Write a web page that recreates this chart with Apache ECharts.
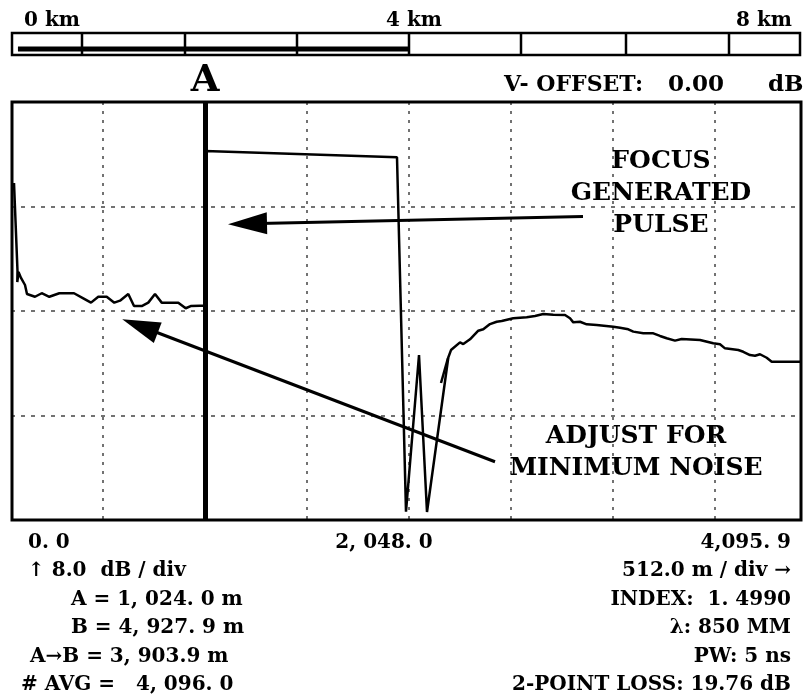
<!DOCTYPE html>
<html><head><meta charset="utf-8">
<script src="https://cdn.jsdelivr.net/npm/echarts@6/dist/echarts.min.js"></script>
<style>html,body{margin:0;padding:0;background:#fff}#c{width:807px;height:700px}</style>
</head><body><div id="c"></div>
<script>
// ---- data (distance in metres, level in dB) ----
const distance = [65.3, 82.8, 81.8, 87.9, 100.4, 120.5, 130.5, 170.7, 204.3, 242.5, 292.7, 366.5, 413.1, 451.8, 488.4, 530.6, 568.8, 597.4, 639.0, 667.7, 706.3, 739.4, 773.1, 806.7, 890.0, 927.2, 952.3, 999.0, 1024, 1024, 1987.9, 2033.1, 2098.4, 2138.5, 2245.4, 2259.0, 2304.2, 2320.7, 2354.4, 2396.0, 2421.1, 2454.8, 2488.4, 2513.5, 2571.7, 2639.0, 2680.7, 2722.3, 2772.5, 2831.3, 2856.4, 2872.9, 2906.6, 2940.2, 2990.4, 3073.7, 3107.4, 3149.0, 3174.1, 3224.3, 3274.5, 3308.2, 3341.8, 3383.5, 3417.1, 3509.0, 3575.7, 3609.4, 3634.5, 3701.2, 3726.3, 3760.0, 3785.1, 3810.2, 3843.8, 3868.9, 4016];
const level = [25.80, 19.06, 18.22, 18.99, 18.53, 17.99, 17.30, 17.09, 17.36, 17.09, 17.36, 17.36, 16.97, 16.64, 17.09, 17.09, 16.64, 16.79, 17.30, 16.38, 16.38, 16.64, 17.30, 16.64, 16.64, 16.21, 16.38, 16.41, 16.41, 28.25, 27.77, 0.64, 12.63, 0.61, 12.44, 13.01, 13.60, 13.47, 13.83, 14.49, 14.60, 15.00, 15.18, 15.23, 15.44, 15.52, 15.62, 15.77, 15.72, 15.69, 15.44, 15.13, 15.18, 14.98, 14.93, 14.80, 14.72, 14.60, 14.42, 14.29, 14.29, 14.09, 13.91, 13.73, 13.86, 13.78, 13.53, 13.45, 13.14, 13.01, 12.88, 12.63, 12.58, 12.69, 12.42, 12.12, 12.12];
const ghostDistance = [2208.8, 2243.9];
const ghostLevel = [10.49, 12.40];
const markerA = 1024;
const focusArrowFrom = [2921.6, 23.23];
const focusArrowTo = [1237.4, 22.68];
const noiseArrowFrom = [2479.9, 4.46];
const noiseArrowTo = [697.8, 14.85];
const scaleKm = [0.04, 4.0];
const scaleBarLevel = [0.27, 0.27];
const scaleLabels = ['0 km', '4 km', '8 km'];
const axisDistanceLabels = ['0. 0', '2, 048. 0', '4,095. 9'];
const footerLeft = ['\u2191 8.0  dB / div', 'A = 1, 024. 0 m', 'B = 4, 927. 9 m', 'A\u2192B = 3, 903.9 m', '# AVG =   4, 096. 0'];
const footerRight = ['512.0 m / div \u2192', 'INDEX:  1. 4990', '\u03bb: 850 MM', 'PW: 5 ns', '2-POINT LOSS: 19.76 dB'];
const focusText = ['FOCUS', 'GENERATED', 'PULSE'];
const noiseText = ['ADJUST FOR', 'MINIMUM NOISE'];

// ---- chart ----
const FONT = '"DejaVu Serif", serif';
function txt(s, x, y, size, align) {
  return {type: 'text', x: x, y: y, z: 50, silent: true,
    style: {text: s, font: 'bold ' + size + 'px ' + FONT, fill: '#000',
      textAlign: align || 'left', textVerticalAlign: 'middle'}};
}
function line(x1, y1, x2, y2, w) {
  return {type: 'line', z: 60, silent: true, shape: {x1: x1, y1: y1, x2: x2, y2: y2},
    style: {stroke: '#000', lineWidth: w}};
}

const graphics = [];
// mask for grid overhang left of the frame
graphics.push({type: 'rect', z: 55, silent: true, shape: {x: 0, y: 95, width: 10.5, height: 430},
  style: {fill: '#fff', stroke: 'none'}});
// plot frame
graphics.push({type: 'rect', z: 60, silent: true, shape: {x: 12, y: 102, width: 789, height: 418},
  style: {fill: 'none', stroke: '#000', lineWidth: 3}});
// scale bar box & dividers
graphics.push({type: 'rect', z: 60, silent: true, shape: {x: 12, y: 33, width: 788, height: 22},
  style: {fill: 'none', stroke: '#000', lineWidth: 2.5}});
[82, 185, 297, 409, 521, 626, 729].forEach(function (x) { graphics.push(line(x, 33, x, 55, 2.5)); });
// scale labels
graphics.push(txt(scaleLabels[0], 24, 21, 20));
graphics.push(txt(scaleLabels[1], 386, 21, 20));
graphics.push(txt(scaleLabels[2], 736, 21, 20));
// V-offset
graphics.push(txt('V- OFFSET:', 504, 85, 22));
graphics.push(txt('0.00', 668, 85, 23));
graphics.push(txt('dB', 768, 85, 23));
// annotations
focusText.forEach(function (s, i) { graphics.push(txt(s, 661, 161 + i * 32, 25, 'center')); });
noiseText.forEach(function (s, i) { graphics.push(txt(s, 636, 436 + i * 32, 25, 'center')); });
// footer
const rowY = [543, 571, 600, 628, 657, 685];
graphics.push(txt(axisDistanceLabels[0], 28, rowY[0], 20));
graphics.push(txt(axisDistanceLabels[1], 384, rowY[0], 20, 'center'));
graphics.push(txt(axisDistanceLabels[2], 791, rowY[0], 20, 'right'));
const leftX = [28, 71, 71, 30, 21];
footerLeft.forEach(function (s, i) { graphics.push(txt(s, leftX[i], rowY[i + 1], 20)); });
footerRight.forEach(function (s, i) { graphics.push(txt(s, 791, rowY[i + 1], 20, 'right')); });

const chart = echarts.init(document.getElementById('c'), null, {renderer: 'canvas'});
chart.setOption({
  animation: false,
  backgroundColor: '#fff',
  grid: [
    {left: 1, right: 6, top: 102, bottom: 180},
    {left: 14, width: 790, top: 33, height: 22}
  ],
  xAxis: [
    {type: 'value', gridIndex: 0, min: 0, max: 4016, interval: 512,
      axisLine: {show: false}, axisTick: {show: false}, axisLabel: {show: false},
      splitLine: {show: true, lineStyle: {color: '#444', width: 1.5, type: [3, 6]}}},
    {type: 'value', gridIndex: 1, min: 0, max: 8, show: false}
  ],
  yAxis: [
    {type: 'value', gridIndex: 0, min: 0, max: 32, interval: 8,
      axisLine: {show: false}, axisTick: {show: false}, axisLabel: {show: false},
      splitLine: {show: true, lineStyle: {color: '#444', width: 1.5, type: [4, 6]}}},
    {type: 'value', gridIndex: 1, min: 0, max: 1, show: false}
  ],
  series: [
    {type: 'line', xAxisIndex: 0, yAxisIndex: 0, showSymbol: false, z: 5,
      data: distance.map(function (d, i) { return [d, level[i]]; }),
      lineStyle: {color: '#000', width: 2.5}},
    {type: 'line', xAxisIndex: 0, yAxisIndex: 0, showSymbol: false, z: 5,
      data: ghostDistance.map(function (d, i) { return [d, ghostLevel[i]]; }),
      lineStyle: {color: '#000', width: 2.5}},
    {type: 'line', xAxisIndex: 0, yAxisIndex: 0, data: [], z: 6,
      markLine: {silent: true, symbol: 'none', animation: false,
        lineStyle: {color: '#000', width: 5, type: 'solid'},
        label: {show: true, position: 'end', formatter: 'A', color: '#000',
          fontFamily: FONT, fontWeight: 'bold', fontSize: 37, distance: 2},
        data: [{xAxis: markerA}]}},
    {type: 'line', xAxisIndex: 0, yAxisIndex: 0, data: [], z: 6,
      markLine: {silent: true, animation: false, symbol: ['none', 'triangle'],
        lineStyle: {color: '#000', width: 3, type: 'solid'},
        label: {show: false},
        data: [
          [{coord: focusArrowFrom, symbol: 'none'}, {coord: focusArrowTo, symbol: 'triangle', symbolSize: [22, 39]}],
          [{coord: noiseArrowFrom, symbol: 'none'}, {coord: noiseArrowTo, symbol: 'triangle', symbolSize: [22, 38]}]
        ]}},
    {type: 'line', xAxisIndex: 1, yAxisIndex: 1, showSymbol: false, z: 5,
      data: scaleKm.map(function (d, i) { return [d, scaleBarLevel[i]]; }),
      lineStyle: {color: '#000', width: 5}}
  ],
  graphic: graphics
});
</script></body></html>
